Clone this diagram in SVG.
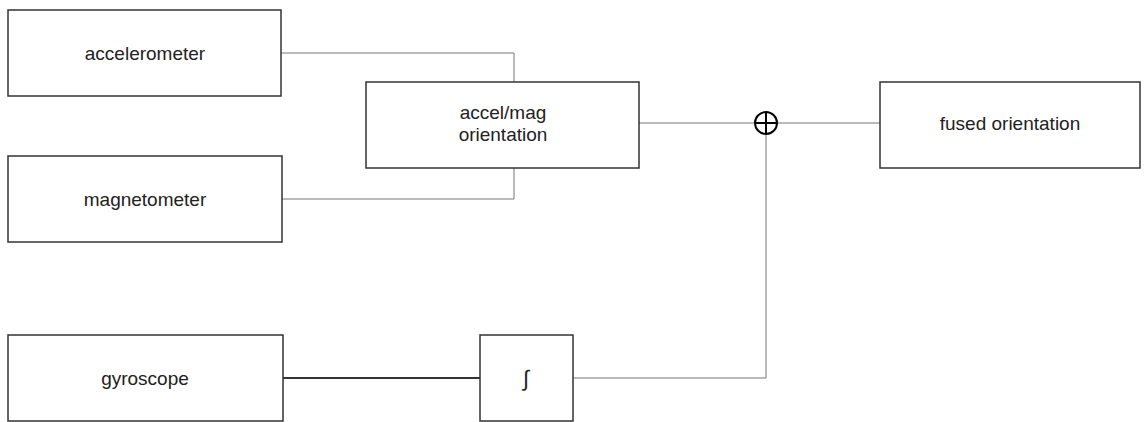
<svg xmlns="http://www.w3.org/2000/svg" width="1148" height="422" viewBox="0 0 1148 422">
<style>
.box{fill:#fff;stroke:#333;stroke-width:1.5}
.lbl{font-family:"Liberation Sans",Arial,sans-serif;font-size:19px;fill:#222;text-anchor:middle}
.wire{fill:none;stroke:#777;stroke-width:1}
.thick{fill:none;stroke:#333;stroke-width:2}
</style>
<rect width="1148" height="422" fill="#fff"/>
<g id="connectors">
<path class="wire" d="M281,53 H514 V82"/>
<path class="wire" d="M282,199 H514 V168"/>
<path class="wire" d="M639,123 H880"/>
<path class="wire" d="M573,378 H766 V123"/>
<path class="thick" d="M283,378 H480"/>
</g>
<g id="accelerometer"><rect class="box" x="8" y="10" width="273" height="86"/><text class="lbl" x="145" y="60">accelerometer</text></g>
<g id="magnetometer"><rect class="box" x="8" y="156" width="274" height="86"/><text class="lbl" x="145" y="206">magnetometer</text></g>
<g id="accelmag"><rect class="box" x="366" y="82" width="273" height="86"/><text class="lbl" x="503" y="119">accel/mag</text><text class="lbl" x="503" y="141">orientation</text></g>
<g id="sum"><circle cx="766" cy="123" r="11" fill="#fff" stroke="#000" stroke-width="2"/><path d="M755,123 H777 M766,112 V134" stroke="#000" stroke-width="2"/></g>
<g id="fused"><rect class="box" x="880" y="82" width="260" height="86"/><text class="lbl" x="1010" y="130">fused orientation</text></g>
<g id="gyroscope"><rect class="box" x="8" y="335" width="275" height="86"/><text class="lbl" x="145" y="385">gyroscope</text></g>
<g id="integral"><rect class="box" x="480" y="335" width="93" height="86"/><text class="lbl" x="526" y="386" style="font-size:22px">∫</text></g>
</svg>
